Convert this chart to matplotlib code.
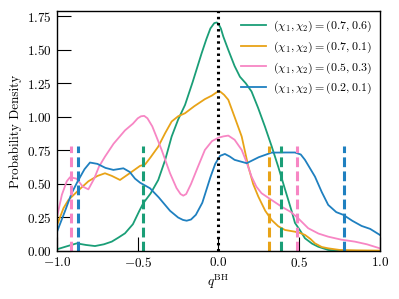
import matplotlib
matplotlib.use("Agg")
import matplotlib.pyplot as plt

plt.rcParams["font.family"] = "serif"
plt.rcParams["font.serif"] = ["cmr10"]
plt.rcParams["mathtext.fontset"] = "cm"
plt.rcParams["axes.formatter.use_mathtext"] = True
plt.rcParams["axes.unicode_minus"] = True

labels = [r"$(\chi_1, \chi_2) = (0.7, 0.6)$",
          r"$(\chi_1, \chi_2) = (0.7, 0.1)$",
          r"$(\chi_1, \chi_2) = (0.5, 0.3)$",
          r"$(\chi_1, \chi_2) = (0.2, 0.1)$"]
colors = ["#1a9e77", "#e8a317", "#f786c4", "#1f80c0"]

# green (0.7, 0.6)
q_green = [-1.0, -0.94, -0.878, -0.82, -0.765, -0.71, -0.661, -0.62, -0.579, -0.53,
           -0.49, -0.466, -0.42, -0.373, -0.33, -0.29, -0.25, -0.207, -0.16, -0.104,
           -0.075, -0.05, -0.026, -0.01, 0.0, 0.015, 0.03, 0.061, 0.10, 0.133,
           0.17, 0.205, 0.245, 0.288, 0.33, 0.37, 0.41, 0.453, 0.474, 0.505,
           0.536, 0.58, 0.618, 0.68, 0.75, 1.0]
d_green = [0.013, 0.035, 0.057, 0.045, 0.037, 0.05, 0.07, 0.10, 0.132, 0.20,
           0.30, 0.356, 0.43, 0.53, 0.68, 0.854, 0.98, 1.09, 1.26, 1.476,
           1.58, 1.66, 1.70, 1.705, 1.695, 1.66, 1.60, 1.50, 1.38, 1.30,
           1.25, 1.19, 1.07, 0.928, 0.78, 0.63, 0.47, 0.30, 0.21, 0.155,
           0.095, 0.055, 0.032, 0.008, 0.002, 0.0]

# orange (0.7, 0.1)
q_orange = [-1.0, -0.96, -0.93, -0.87, -0.806, -0.75, -0.703, -0.66, -0.61, -0.55,
            -0.486, -0.455, -0.42, -0.373, -0.33, -0.29, -0.25, -0.207, -0.15, -0.084,
            -0.04, -0.01, 0.01, 0.035, 0.061, 0.10, 0.144, 0.185, 0.215, 0.247,
            0.29, 0.329, 0.37, 0.412, 0.474, 0.505, 0.536, 0.57, 0.598, 0.64,
            0.68, 0.75, 0.85, 1.0]
d_orange = [0.194, 0.32, 0.38, 0.45, 0.52, 0.56, 0.58, 0.56, 0.53, 0.58,
            0.635, 0.645, 0.70, 0.779, 0.88, 0.966, 1.005, 1.028, 1.08, 1.133,
            1.16, 1.185, 1.19, 1.165, 1.128, 1.00, 0.854, 0.63, 0.50, 0.406,
            0.30, 0.232, 0.185, 0.157, 0.144, 0.135, 0.12, 0.09, 0.057, 0.03,
            0.02, 0.008, 0.005, 0.003]

# pink (0.5, 0.3)
q_pink = [-1.0, -0.97, -0.94, -0.92, -0.88, -0.84, -0.806, -0.77, -0.74, -0.703,
          -0.65, -0.579, -0.53, -0.50, -0.48, -0.46, -0.44, -0.41, -0.38, -0.352,
          -0.30, -0.26, -0.235, -0.218, -0.20, -0.17, -0.13, -0.084, -0.04, 0.0,
          0.03, 0.061, 0.10, 0.144, 0.175, 0.205, 0.235, 0.267, 0.33, 0.391,
          0.45, 0.494, 0.556, 0.62, 0.68, 0.76, 0.845, 0.92, 1.0]
d_pink = [0.256, 0.42, 0.52, 0.55, 0.54, 0.48, 0.46, 0.54, 0.63, 0.704,
          0.80, 0.90, 0.95, 0.99, 1.005, 1.008, 0.99, 0.93, 0.84, 0.754,
          0.58, 0.47, 0.425, 0.413, 0.425, 0.50, 0.62, 0.754, 0.82, 0.845,
          0.855, 0.861, 0.83, 0.754, 0.66, 0.555, 0.48, 0.431, 0.38, 0.331,
          0.29, 0.244, 0.17, 0.13, 0.107, 0.085, 0.07, 0.05, 0.02]

# blue (0.2, 0.1)
q_blue = [-1.0, -0.95, -0.91, -0.872, -0.83, -0.796, -0.75, -0.70, -0.651, -0.589,
          -0.55, -0.517, -0.486, -0.424, -0.37, -0.30, -0.25, -0.22, -0.197, -0.17,
          -0.14, -0.10, -0.05, -0.02, 0.01, 0.04, 0.07, 0.10, 0.175, 0.25,
          0.329, 0.42, 0.474, 0.51, 0.536, 0.598, 0.64, 0.68, 0.73, 0.773,
          0.83, 0.887, 0.94, 1.0]
d_blue = [0.144, 0.30, 0.43, 0.52, 0.61, 0.66, 0.65, 0.62, 0.605, 0.617,
          0.59, 0.54, 0.51, 0.468, 0.40, 0.30, 0.25, 0.232, 0.226, 0.235,
          0.27, 0.36, 0.55, 0.65, 0.71, 0.724, 0.705, 0.68, 0.655, 0.70,
          0.734, 0.735, 0.735, 0.72, 0.68, 0.555, 0.44, 0.344, 0.29, 0.27,
          0.225, 0.187, 0.165, 0.12]

# dashed interval markers per series
bounds_green = [-0.466, 0.389]
bounds_orange = [0.311]
bounds_pink = [-0.913, 0.488]
bounds_blue = [-0.872, 0.777]
marker_height = 0.785

fig = plt.figure(figsize=(3.99, 2.99), dpi=100)
ax = fig.add_axes([0.143, 0.1605, 0.809, 0.8025])

curves = [(q_green, d_green), (q_orange, d_orange), (q_pink, d_pink), (q_blue, d_blue)]
for (q, d), c, lab in zip(curves, colors, labels):
    ax.plot(q, d, color=c, lw=1.3, label=lab)

for b, c in zip([bounds_green, bounds_orange, bounds_pink, bounds_blue], colors):
    for x in b:
        ax.vlines(x, 0, marker_height, color=c, lw=2.2, linestyles=(0, (3.2, 1.4)))

ax.axvline(0.0, color="black", lw=2.2, linestyle=(0, (0.8, 1.2)))

ax.set_xlim(-1.0, 1.0)
ax.set_ylim(0, 1.79)
ax.set_xticks([-1.0, -0.5, 0.0, 0.5, 1.0])
ax.set_yticks([0.0, 0.25, 0.5, 0.75, 1.0, 1.25, 1.5, 1.75])
ax.tick_params(direction="in", length=10, width=0.8, labelsize=9.5)
for s in ax.spines.values():
    s.set_linewidth(1.0)

ax.set_xlabel(r"$q^{\rm BH}$", fontsize=9.5, labelpad=2)
ax.set_ylabel("Probability Density", fontsize=9.5)
ax.legend(loc="upper right", frameon=False, fontsize=8.6, handlelength=2.1,
          borderaxespad=0.25, labelspacing=0.45, handletextpad=0.6)

fig.savefig("out.png", dpi=100)
